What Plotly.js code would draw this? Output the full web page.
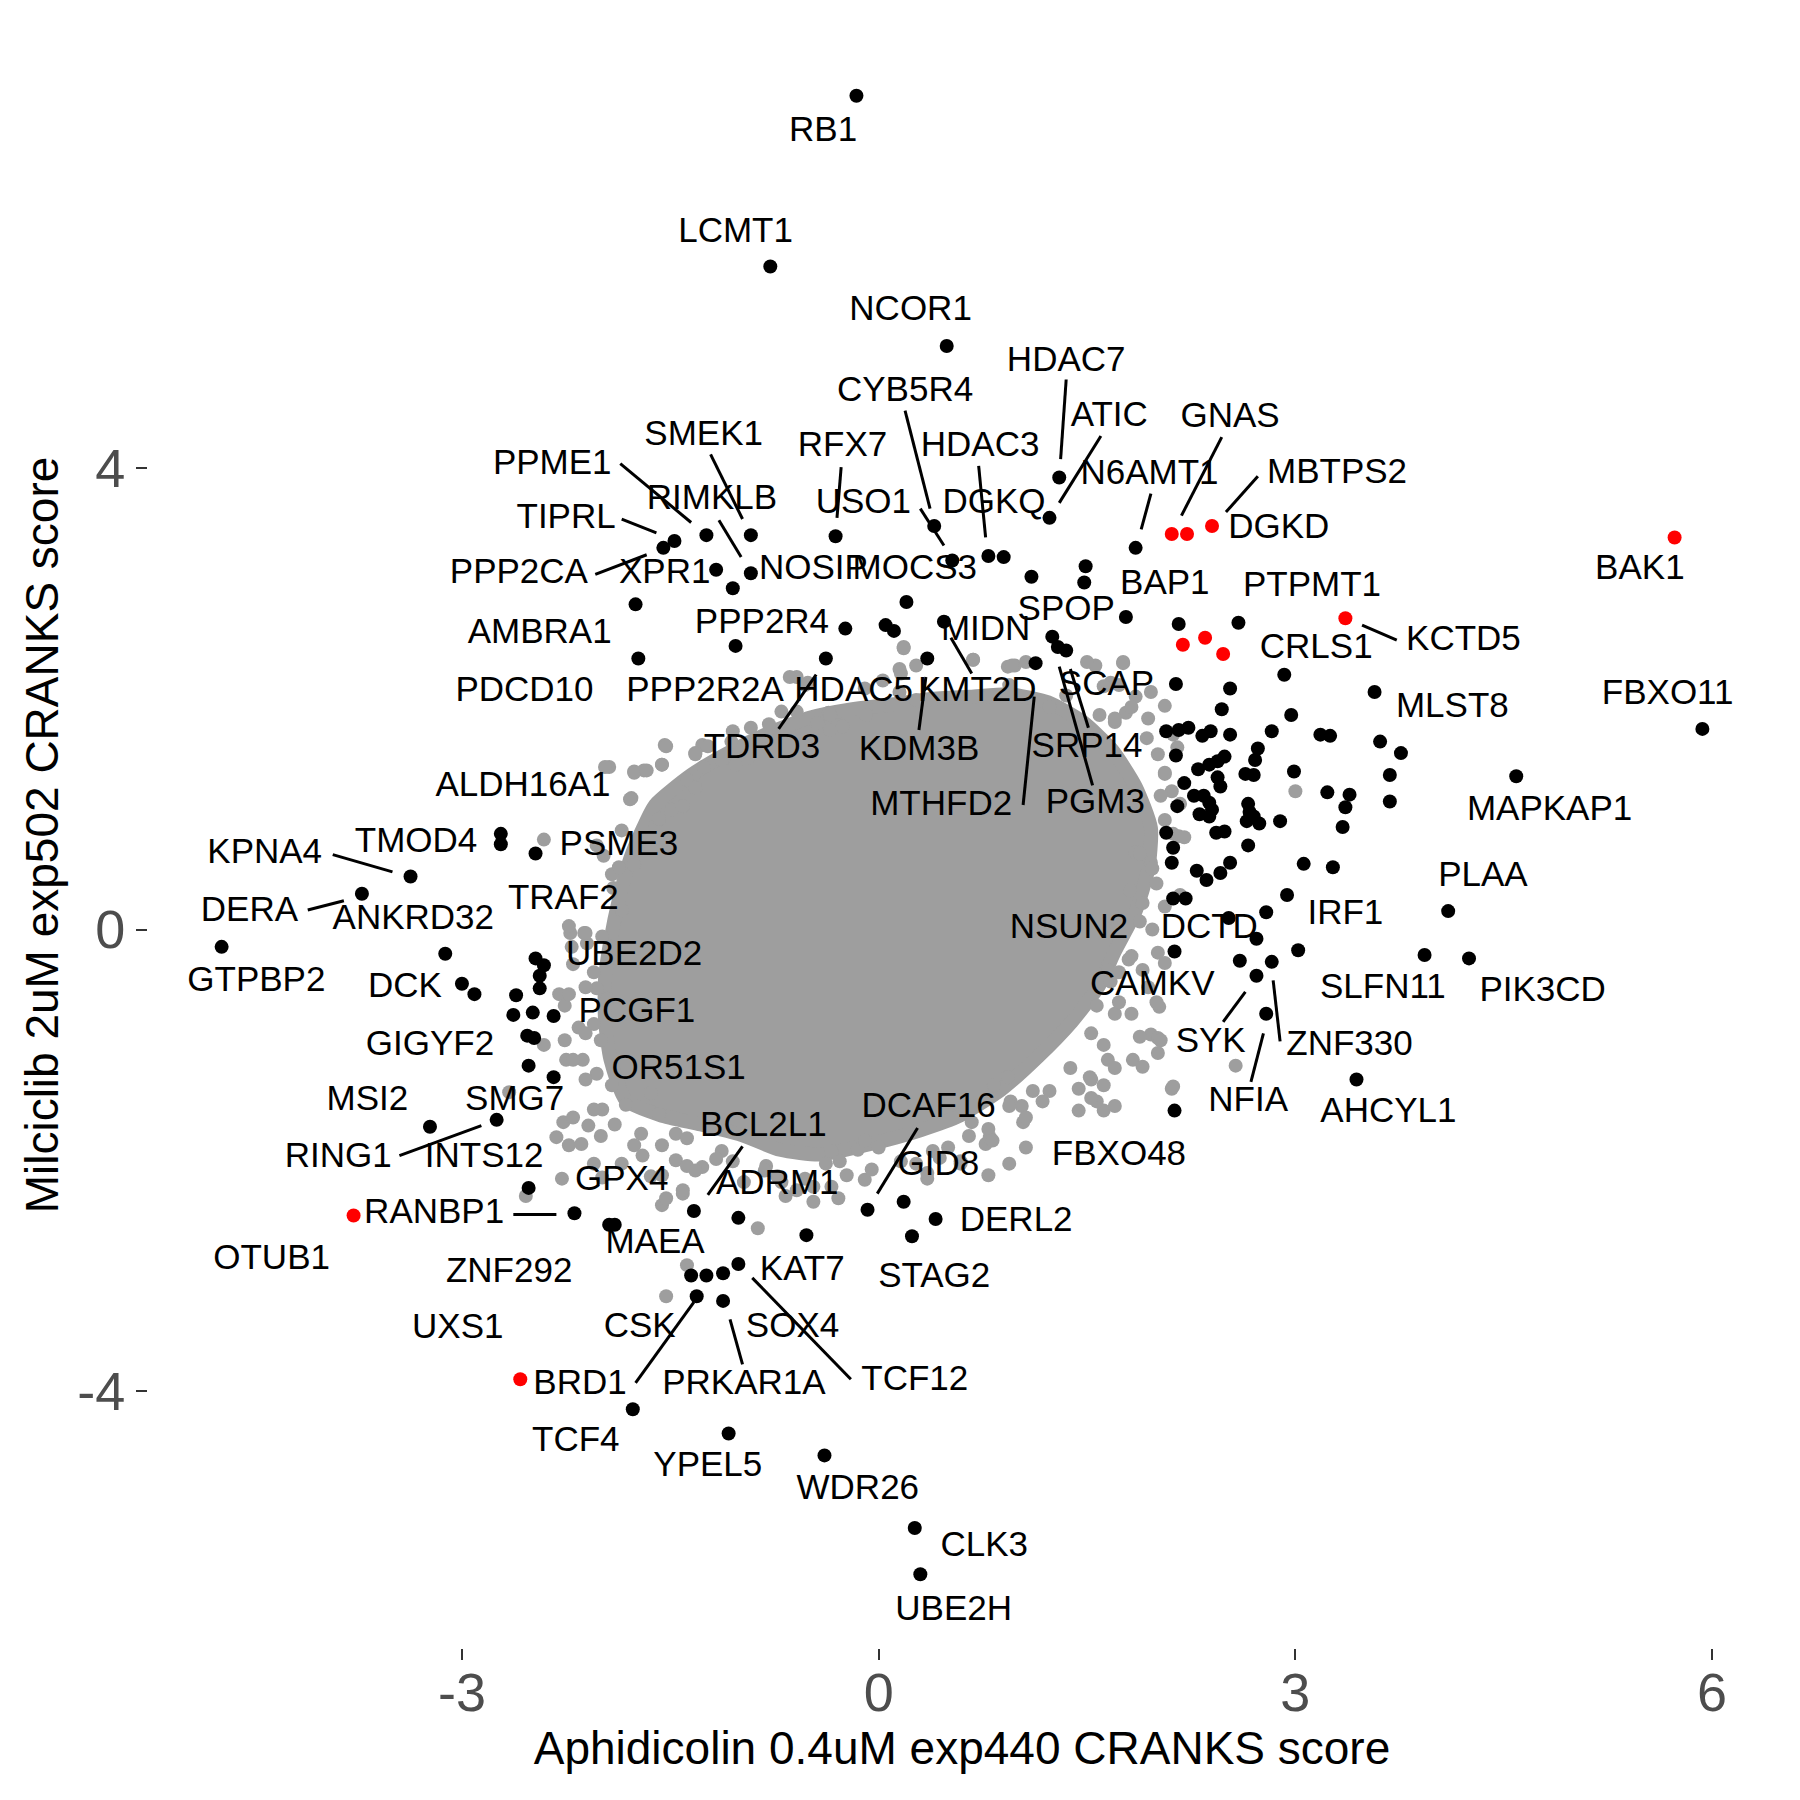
<!DOCTYPE html>
<html>
<head>
<meta charset="utf-8">
<script src="https://cdn.plot.ly/plotly-3.0.1.min.js"></script>
<style>html,body{margin:0;padding:0;background:#fff;}#chart{width:1800px;height:1800px;}</style>
</head>
<body>
<div id="chart"></div>
<script>
// Outline of the dense grey core (data units)
const coreX = [-1.61,-1.35,-1.07,-0.78,-0.49,-0.20,0.08,0.37,0.66,0.95,1.22,1.47,1.68,1.85,1.96,1.94,1.85,1.70,1.58,1.39,1.15,0.88,0.59,0.30,-0.06,-0.42,-0.71,-0.99,-1.28,-1.57,-1.82,-1.93,-1.97,-1.97,-1.93,-1.87,-1.79,-1.70];
const coreY = [1.08,1.34,1.54,1.71,1.84,1.91,1.95,2.00,2.02,2.04,1.97,1.80,1.56,1.24,0.88,0.52,0.16,-0.19,-0.50,-0.80,-1.10,-1.39,-1.61,-1.74,-1.86,-1.95,-1.91,-1.78,-1.69,-1.61,-1.48,-1.13,-0.78,-0.43,-0.09,0.26,0.61,0.87];

// Grey (non-hit) fringe points
const grayX = [-1.54,-1.32,-1.27,-1.94,-1.76,-1.69,-1.56,-1.38,-1.32,-1.78,-1.49,-1.41,-2.41,-1.98,-2.03,-1.92,-1.87,-2.22,-2.12,-2.21,-2.10,-1.99,-1.92,-2.03,-1.95,-2.30,-2.26,-2.16,-2.05,-2.41,-2.25,-2.13,-2.03,-1.92,-1.99,-2.66,-1.82,-1.64,-2.27,-2.09,-1.90,-1.71,-1.58,-1.46,-1.38,-2.32,-2.23,-2.05,-1.99,-1.76,-1.56,-2.28,-1.46,-1.38,-1.64,-1.27,-1.41,-1.56,-2.54,-1.38,-1.53,-1.13,-1.05,-0.87,-0.67,-0.59,-0.81,-0.73,-0.47,-0.34,-0.28,-0.34,-0.10,-0.05,-0.15,-0.10,0.00,0.35,0.39,0.44,0.77,0.80,0.67,1.03,1.18,1.04,1.44,1.62,1.57,2.11,0.59,0.16,0.95,1.11,0.18,0.68,0.98,0.93,1.56,1.76,1.67,1.85,1.96,2.06,-0.59,-0.51,-1.05,-0.92,-0.79,-1.26,-1.13,-0.38,-0.36,0.03,0.16,-0.10,1.93,2.01,1.70,1.78,2.06,2.11,2.06,2.16,1.85,1.96,1.81,1.90,1.70,1.62,2.01,2.06,1.80,1.90,1.65,1.67,1.57,1.70,1.96,2.01,1.83,1.90,1.65,1.44,1.52,1.62,0.93,0.83,2.15,3.00,2.02,2.01,2.57,
  0.18,0.15,0.27,0.68,0.96,1.06,1.50,1.76,1.62,1.73,1.82,1.94,2.06,2.12,2.03,2.17,2.12,2.20,1.88,1.97,2.00,2.06,2.17,1.88,1.97,1.82,1.73,1.94,2.00,1.73,1.82,1.53,1.62,1.88,2.03,1.70,1.53,1.38,1.23,2.12,1.53,1.70,0.94,1.06,0.79,0.65,0.82,0.94,1.06,0.50,0.59,0.27,0.35,0.79,-0.23,-0.38,-0.53,-0.47,-0.29,-0.70,-0.82,-0.97,-1.17,-1.32,-1.56,-1.41,-1.53,-1.70,-1.85,-2.00,-2.14,-2.05,-2.20,-2.11,-2.20,-2.26,-2.11,-2.00,-2.23,-2.11,-2.20,-2.05,-2.23,-2.11,-1.85,-1.91,-1.76,-1.64,-1.85,-1.61,-1.79,-1.58,-1.76,-1.67,-1.97,-1.53,-1.56,-1.32,-1.23,-1.06,-0.88,-1.03,-0.94,-0.70,-0.59,-0.64,-0.53,-0.44,-0.35,-0.35,-0.26,-0.09,0.00,0.15,0.27,0.79,0.94,1.23,1.35,1.47,1.59,1.70];
const grayY = [1.60,1.52,1.60,1.41,1.37,1.38,1.43,1.30,1.23,1.14,1.04,1.07,0.78,0.64,0.73,0.48,0.54,-0.03,-0.03,-0.15,-0.12,-0.06,-0.15,-0.51,-0.60,-0.56,-0.66,-0.85,-0.82,-1.00,-1.13,-1.13,-1.25,-1.35,-1.56,-1.41,-1.52,-1.42,-1.67,-1.70,-1.69,-1.77,-1.60,-1.77,-1.81,-1.80,-1.87,-2.03,-2.15,-1.87,-1.87,-2.16,-2.00,-2.05,-2.14,-2.06,-2.29,-2.39,-2.31,-2.91,-3.18,-1.92,-2.01,-2.59,-2.31,-2.26,-2.05,-2.14,-2.23,-2.23,-2.01,-1.92,-2.17,-2.08,-1.91,-1.83,-1.89,-2.11,-1.92,-1.98,-1.86,-1.80,-1.67,-1.53,-1.49,-1.67,-1.57,-1.57,-1.49,-1.38,-2.01,-2.01,-1.49,-1.40,2.45,2.34,2.29,2.28,2.29,2.31,2.14,2.02,2.06,1.94,2.19,2.14,1.72,1.75,1.78,1.41,1.47,1.80,1.88,2.16,2.22,2.09,1.66,1.52,1.80,1.88,1.35,1.20,0.95,0.81,0.67,0.58,0.34,0.23,0.11,0.02,-0.20,-0.29,-0.26,-0.35,-0.35,-0.45,-0.66,-0.73,-0.91,-1.07,-1.13,-1.19,-1.13,-1.38,-1.28,-1.35,-1.28,-1.35,1.58,1.20,-0.67,-0.94,-1.18,
  2.44,2.26,2.29,2.34,2.29,2.32,2.32,2.32,2.11,2.12,1.93,1.83,1.36,1.69,1.16,1.09,0.83,0.80,0.66,0.53,0.40,0.20,0.30,0.07,0.00,-0.23,-0.37,-0.50,-0.63,-0.63,-0.73,-0.90,-1.00,-0.93,-0.96,-1.20,-1.30,-1.20,-1.40,-1.36,-1.46,-1.53,-1.53,-1.63,-1.73,-1.79,-1.83,-2.03,-1.89,-1.89,-2.03,-2.03,-2.16,-2.13,-2.13,-2.03,-2.16,-2.36,-2.33,-2.19,-2.09,-2.19,-1.99,-2.09,-2.13,-2.26,-2.33,-1.96,-2.03,-1.79,-1.86,-1.56,-1.63,-1.30,-1.13,-0.96,-0.90,-0.96,-0.56,-0.50,-0.30,-0.37,0.03,-0.03,0.17,0.36,0.56,0.70,0.86,0.90,1.13,0.96,1.36,1.38,1.41,1.59,1.43,1.53,1.59,1.63,1.66,1.43,1.49,1.89,1.89,2.19,2.12,1.79,1.86,1.73,1.76,1.86,1.93,2.06,1.99,2.02,2.12,1.93,2.03,1.76,1.86,1.83];

// Black (hit) points
const blackX = [-0.16,-0.78,0.49,1.30,1.23,1.85,-0.31,0.40,0.79,0.90,0.53,1.10,1.49,1.48,0.20,-1.24,-0.92,-1.17,-0.92,-1.05,-1.47,-1.55,-1.75,-1.73,-0.24,0.05,0.11,-1.03,0.47,-0.38,0.35,1.78,1.25,1.29,1.35,1.13,2.16,2.59,2.92,3.57,5.93,2.14,2.53,2.47,2.97,2.07,2.16,2.23,2.33,2.39,2.53,2.83,3.18,3.25,3.61,3.76,2.73,2.71,2.49,2.44,2.38,2.30,2.64,2.70,2.99,2.44,2.46,2.20,3.68,3.23,3.39,3.36,4.59,2.27,2.34,2.38,2.15,2.31,2.38,2.40,2.66,2.67,2.70,2.65,2.74,2.89,3.68,3.34,2.43,2.49,2.66,2.07,2.12,2.11,2.53,2.46,2.29,2.36,3.06,3.27,2.94,4.10,2.79,2.12,2.21,2.52,2.72,3.02,2.13,3.93,4.25,2.60,2.83,2.72,2.79,3.44,2.13,-2.72,-2.72,-2.47,-3.37,-3.72,-4.73,-3.12,-3.00,-2.91,-2.47,-2.41,-2.44,-2.44,-2.61,-2.63,-2.49,-2.34,-2.53,-2.48,-2.52,-2.34,-3.23,-2.75,-2.52,-2.19,-1.94,-1.90,-1.33,-1.35,-1.24,-1.31,-1.77,-1.01,-0.52,-0.08,0.18,0.41,0.24,-1.12,-1.01,-1.12,-1.08,-0.39,0.26,0.30,2.14];
const blackY = [7.23,5.75,5.06,3.92,3.57,3.31,3.41,3.50,3.24,3.23,3.20,3.06,3.15,3.01,2.84,3.42,3.42,3.12,3.09,2.96,3.37,3.31,2.82,2.35,2.61,2.64,2.59,2.46,2.67,2.35,2.35,2.71,2.54,2.45,2.42,2.31,2.65,2.66,2.21,2.06,1.74,2.13,2.09,1.91,1.86,1.72,1.73,1.75,1.68,1.72,1.69,1.72,1.69,1.68,1.63,1.53,1.57,1.47,1.50,1.46,1.43,1.39,1.35,1.34,1.37,1.32,1.24,1.27,1.34,1.19,1.17,1.06,1.33,1.16,1.16,1.10,1.07,1.00,0.98,1.04,1.09,1.02,0.98,0.94,0.92,0.94,1.11,0.89,0.84,0.85,0.73,0.84,0.71,0.58,0.58,0.49,0.51,0.43,0.57,0.54,0.30,0.16,0.15,0.27,0.27,0.10,-0.08,-0.18,-0.19,-0.22,-0.25,-0.27,-0.28,-0.40,-0.73,-1.30,-1.57,0.83,0.74,0.66,0.46,0.31,-0.15,-0.21,-0.47,-0.56,-0.25,-0.31,-0.40,-0.51,-0.57,-0.74,-0.72,-0.75,-0.92,-0.94,-1.18,-1.28,-1.71,-1.65,-2.24,-2.46,-2.56,-2.56,-2.44,-3.00,-3.00,-3.18,-4.16,-2.50,-2.65,-2.43,-2.36,-2.51,-2.66,-2.98,-2.90,-3.22,-4.37,-4.56,-5.19,-5.59,1.51];

// Red points
const redX = [2.11,2.22,2.40,5.73,3.36,2.19,2.35,2.48,-3.78,-2.58];
const redY = [3.43,3.43,3.50,3.40,2.70,2.47,2.53,2.39,-2.48,-3.90];

// Gene labels
const labelText = ["RB1","LCMT1","NCOR1","HDAC7","CYB5R4","ATIC","GNAS","SMEK1","PPME1","RFX7","HDAC3","N6AMT1","MBTPS2","RIMKLB","USO1","DGKQ","TIPRL","DGKD","NOSIP","MOCS3","PPP2CA","XPR1","BAK1","BAP1","PTPMT1","SPOP","PPP2R4","MIDN","AMBRA1","KCTD5","CRLS1","SCAP","PDCD10","PPP2R2A","HDAC5","KMT2D","FBXO11","MLST8","SRP14","TDRD3","KDM3B","ALDH16A1","MTHFD2","PGM3","MAPKAP1","TMOD4","PSME3","KPNA4","PLAA","TRAF2","DERA","ANKRD32","IRF1","NSUN2","DCTD","GTPBP2","UBE2D2","DCK","CAMKV","SLFN11","PIK3CD","PCGF1","SYK","ZNF330","GIGYF2","OR51S1","MSI2","NFIA","DCAF16","SMG7","AHCYL1","BCL2L1","RING1","INTS12","FBXO48","GID8","GPX4","ADRM1","RANBP1","DERL2","MAEA","OTUB1","ZNF292","KAT7","STAG2","UXS1","CSK","SOX4","TCF12","BRD1","PRKAR1A","TCF4","YPEL5","WDR26","CLK3","UBE2H"];
const labelX = [-0.40,-1.03,0.23,1.35,0.19,1.66,2.53,-1.26,-2.35,-0.26,0.73,1.95,3.30,-1.20,-0.11,0.83,-2.25,2.88,-0.47,0.26,-2.59,-1.54,5.48,2.06,3.12,1.35,-0.84,0.77,-2.44,4.21,3.15,1.64,-2.55,-1.25,-0.18,0.71,5.68,4.13,1.50,-0.84,0.29,-2.56,0.45,1.56,4.83,-3.33,-1.87,-4.42,4.35,-2.27,-4.53,-3.35,3.36,1.37,2.38,-4.48,-1.76,-3.41,1.97,3.63,4.78,-1.74,2.39,3.39,-3.23,-1.44,-3.68,2.66,0.36,-2.62,3.67,-0.83,-3.89,-2.84,1.73,0.43,-1.85,-0.73,-3.20,0.99,-1.61,-4.37,-2.66,-0.55,0.40,-3.03,-1.72,-0.62,0.26,-2.15,-0.97,-2.18,-1.23,-0.15,0.76,0.54];
const labelY = [6.91,6.04,5.36,4.92,4.66,4.44,4.43,4.28,4.03,4.18,4.18,3.94,3.95,3.72,3.69,3.69,3.56,3.47,3.12,3.12,3.08,3.08,3.12,2.99,2.97,2.76,2.65,2.59,2.56,2.50,2.43,2.11,2.06,2.06,2.06,2.06,2.03,1.92,1.57,1.56,1.55,1.23,1.07,1.09,1.03,0.75,0.72,0.65,0.45,0.25,0.15,0.08,0.12,0.00,0.00,-0.46,-0.23,-0.51,-0.49,-0.52,-0.54,-0.73,-0.99,-1.01,-1.01,-1.22,-1.49,-1.50,-1.55,-1.49,-1.59,-1.71,-1.98,-1.98,-1.97,-2.05,-2.18,-2.22,-2.47,-2.54,-2.73,-2.87,-2.98,-2.96,-3.02,-3.47,-3.46,-3.46,-3.92,-3.95,-3.95,-4.45,-4.66,-4.86,-5.36,-5.91];

// Label leader segments
const segX0 = [-1.86,-1.85,-2.04,-1.21,-1.15,-0.27,0.19,0.30,0.72,1.35,1.60,1.96,2.47,2.73,0.52,0.34,-0.45,1.12,1.30,1.38,3.48,2.64,2.84,2.77,-3.93,-4.11,-3.45,-2.63,-1.75,-0.98,0.28,-1.07,-0.91];
const segY0 = [4.04,3.56,3.08,4.12,3.55,4.01,4.50,3.65,4.02,4.77,4.28,3.78,4.27,3.93,2.53,2.19,2.21,2.02,2.28,2.26,2.64,-0.54,-0.44,-0.90,0.65,0.17,-1.96,-2.47,-3.93,-1.88,-1.72,-3.38,-3.02];
const segX1 = [-1.35,-1.60,-1.67,-0.98,-0.99,-0.30,0.37,0.47,0.77,1.31,1.30,1.89,2.18,2.50,0.67,0.29,-0.72,1.04,1.54,1.51,3.73,2.48,2.89,2.68,-3.50,-3.85,-2.86,-2.32,-1.33,-1.23,-0.01,-0.98,-0.20];
const segY1 = [3.53,3.44,3.25,3.56,3.23,3.57,3.65,3.33,3.40,4.08,3.70,3.47,3.59,3.62,2.22,1.73,1.74,1.08,1.25,1.75,2.51,-0.80,-0.97,-1.32,0.50,0.25,-1.70,-2.47,-3.23,-2.30,-2.29,-3.77,-3.90];

const GREY = '#9E9E9E';
const DOT = 14;
const FONT = 'Liberation Sans, Arial, Helvetica, sans-serif';

const polyX = coreX.concat([coreX[0]]);
const polyY = coreY.concat([coreY[0]]);
const lx = [], ly = [];
for (let i = 0; i < segX0.length; i++) {
  lx.push(segX0[i], segX1[i], null);
  ly.push(segY0[i], segY1[i], null);
}

const traces = [
  {type:'scatter', mode:'lines', x: polyX, y: polyY, fill:'toself', fillcolor: GREY,
   line:{color: GREY, width: DOT, shape:'spline', smoothing:0.6}, hoverinfo:'skip', showlegend:false},
  {type:'scatter', mode:'markers', x: grayX, y: grayY,
   marker:{color: GREY, size: DOT, line:{width:0}}, hoverinfo:'skip', showlegend:false},
  {type:'scatter', mode:'markers', x: blackX, y: blackY,
   marker:{color:'#000000', size: DOT, line:{width:0}}, hoverinfo:'skip', showlegend:false},
  {type:'scatter', mode:'markers', x: redX, y: redY,
   marker:{color:'#FF0000', size: DOT, line:{width:0}}, hoverinfo:'skip', showlegend:false},
  {type:'scatter', mode:'lines', x: lx, y: ly,
   line:{color:'#000000', width:3}, hoverinfo:'skip', showlegend:false},
  {type:'scatter', mode:'text', x: labelX, y: labelY, text: labelText,
   textposition:'middle center', textfont:{family: FONT, size: 35, color:'#000000'},
   cliponaxis:false, hoverinfo:'skip', showlegend:false}
];

const layout = {
  width: 1800, height: 1800,
  margin: {l:148, r:24, t:22, b:152},
  paper_bgcolor:'#ffffff', plot_bgcolor:'#ffffff',
  showlegend:false,
  font:{family: FONT},
  xaxis:{
    range:[-5.26, 6.46], showgrid:false, zeroline:false, showline:false,
    tickmode:'array', tickvals:[-3,0,3,6], ticktext:['-3','0','3','6'],
    ticks:'outside', ticklen:11, tickwidth:2, tickcolor:'#333333',
    ticklabelstandoff:-14,
    tickfont:{family: FONT, size:54, color:'#4D4D4D'},
    title:{text:'Aphidicolin 0.4uM exp440 CRANKS score', font:{family: FONT, size:46, color:'#000000'}, standoff: 10}
  },
  yaxis:{
    range:[-6.23, 7.87], showgrid:false, zeroline:false, showline:false,
    tickmode:'array', tickvals:[-4,0,4], ticktext:['-4','0','4'],
    ticks:'outside', ticklen:11, tickwidth:2, tickcolor:'#333333',
    tickfont:{family: FONT, size:54, color:'#4D4D4D'},
    title:{text:'Milciclib 2uM exp502 CRANKS score', font:{family: FONT, size:46, color:'#000000'}, standoff: 4}
  }
};

Plotly.newPlot('chart', traces, layout, {staticPlot:true, displayModeBar:false});
</script>
</body>
</html>
